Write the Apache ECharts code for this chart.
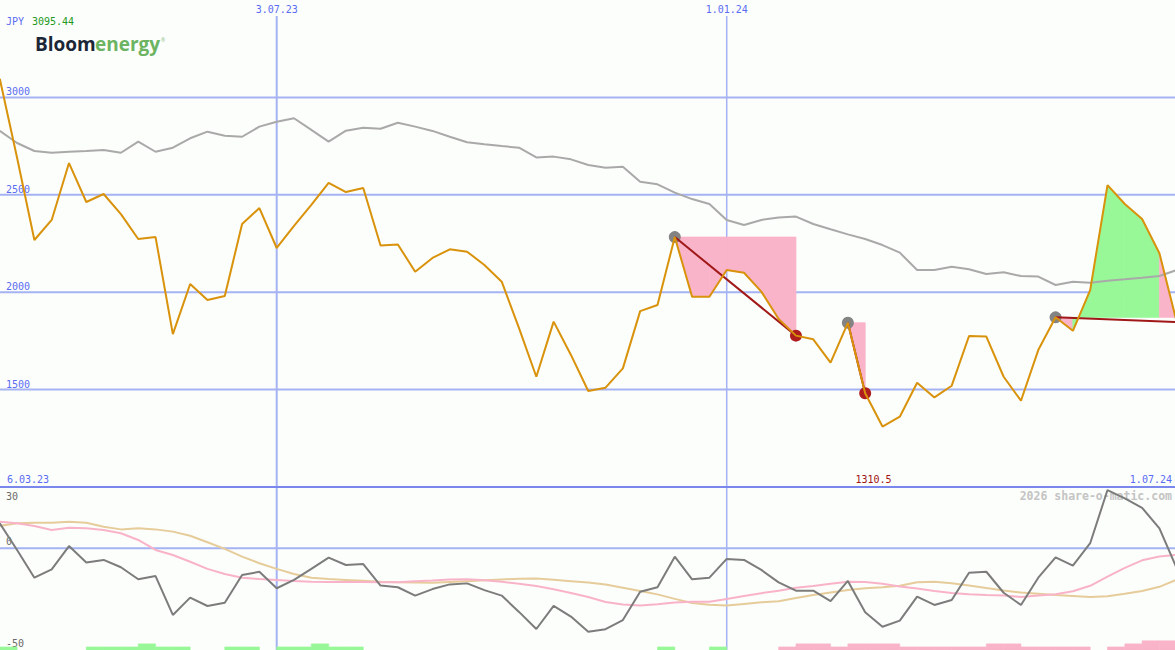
<!DOCTYPE html>
<html><head><meta charset="utf-8">
<script src="https://cdn.jsdelivr.net/npm/echarts@6/dist/echarts.min.js"></script>
<style>html,body{margin:0;padding:0;background:#fcfefb;}#c{width:1175px;height:650px;}</style>
</head><body><div id="c"></div>
<script>
// ---- data (weekly closes, JPY) ----
const firstWeek = 1;                       // week index of first value (13.03.23); 6.03.23 = 0
const dateTicks = ['3.07.23', '1.01.24'];
const dateTickWeeks = [17, 43];
const rangeLabels = ['6.03.23', '1.07.24'];
const priceTicks = [1500, 2000, 2500, 3000];
const oscTicks = [30, 0, -50];
const currency = 'JPY';

const price = [3095.44, 2690, 2268, 2371, 2663, 2463, 2504, 2401, 2273, 2283,
  1785, 2042, 1960, 1980, 2350, 2432, 2227, 2340, 2448, 2561,
  2514, 2535, 2240, 2245, 2105, 2176, 2220, 2208, 2140, 2054,
  1816, 1566, 1849, 1678, 1493, 1510, 1609, 1903, 1934, 2283,
  1977, 1977, 2114, 2100, 2003, 1862, 1777, 1758, 1638, 1843,
  1481, 1310.5, 1361, 1535, 1460, 1520, 1775, 1772, 1566, 1443,
  1703, 1871, 1802, 2011, 2550, 2453, 2376, 2200, 1847];

const average = [2828, 2766, 2725, 2716, 2721, 2725, 2730, 2716, 2773, 2721,
  2742, 2790, 2824, 2803, 2798, 2850, 2875, 2893, 2833, 2773,
  2829, 2844, 2839, 2870, 2850, 2828, 2798, 2770, 2759, 2750,
  2742, 2692, 2696, 2682, 2653, 2639, 2644, 2567, 2554, 2511,
  2478, 2453, 2371, 2345, 2371, 2384, 2388, 2350, 2323, 2297,
  2273, 2242, 2203, 2114, 2114, 2131, 2118, 2093, 2102, 2083,
  2080, 2037, 2054, 2049, 2059, 2066, 2074, 2083, 2114];

const oscMain = [12.2, -0.9, -14.5, -10.4, 1.0, -7.1, -5.8, -9.4, -15.3, -13.7,
  -32.8, -24.3, -28.4, -26.8, -13.2, -11.6, -19.7, -15.6, -10.2, -4.7,
  -8.3, -7.8, -18.4, -19.2, -23.3, -20.1, -17.8, -17.3, -20.6, -23.3,
  -31.3, -39.7, -28.3, -33.6, -41, -39.8, -35.3, -21.4, -19.2, -4.2,
  -15.3, -14.5, -5.3, -5.8, -10.7, -16.8, -20.9, -20.9, -26, -16.1,
  -31.5, -38.6, -35.6, -23.8, -27.9, -25.5, -12.1, -11.6, -21.9, -27.9,
  -14.5, -4.5, -8.6, 2.4, 28.5, 24.4, 19.8, 9.7, -9.9];

const oscFast = [13, 12.2, 10.9, 8.9, 10, 9.7, 8.9, 7.3, 4, -0.9,
  -3.4, -6.7, -10.2, -12.7, -14.5, -15.2, -15.6, -16.1, -16.5, -16.6,
  -16.6, -16.6, -16.8, -16.8, -16.3, -15.9, -15.4, -15.3, -15.8, -16.5,
  -17.5, -18.6, -20.2, -22, -24, -26.4, -27.7, -28.2, -27.6, -26.7,
  -26.3, -26.3, -25, -23.5, -22.1, -20.9, -19.5, -18.6, -17.5, -16.5,
  -16.6, -17.5, -18.8, -19.8, -21, -22, -22.6, -23, -23.3, -24,
  -23.2, -22.6, -21.2, -18.5, -14, -9.7, -6, -4.1, -3.3];

const oscSlow = [10.9, 12.2, 12.5, 12.5, 13, 12.5, 10.5, 9.2, 9.7, 9.2,
  8.1, 6.1, 2.9, -0.4, -4.2, -7.4, -10.2, -12.7, -14.5, -15.2,
  -15.6, -16, -16.5, -16.8, -16.9, -17, -16.6, -16.2, -15.8, -15.4,
  -15, -14.9, -15.5, -16.2, -16.9, -17.9, -19.4, -21, -22.7, -24.9,
  -26.9, -27.8, -28.2, -27.4, -26.6, -26.1, -24.5, -23, -21.8, -20.6,
  -19.7, -19.2, -18.5, -16.8, -16.5, -17.2, -18.3, -19.6, -20.8, -21.8,
  -22.4, -23, -23.5, -24, -23.6, -22.4, -21, -19, -15.5];

const barUp = [1.5, 0, 0, 0, 0, 1.5, 1.5, 1.5, 3, 1.5,
  1.5, 0, 0, 1.5, 1.5, 0, 1.5, 1.5, 3, 1.5,
  1.5, 0, 0, 0, 0, 0, 0, 0, 0, 0,
  0, 0, 0, 0, 0, 0, 0, 0, 1.5, 0,
  0, 1.5, 0, 0, 0, 0, 0, 0, 0, 0,
  0, 0, 0, 0, 0, 0, 0, 0, 0, 0,
  0, 0, 0, 0, 0, 0, 0, 0, 0];

const barDown = [0, 0, 0, 0, 0, 0, 0, 0, 0, 0,
  0, 0, 0, 0, 0, 0, 0, 0, 0, 0,
  0, 0, 0, 0, 0, 0, 0, 0, 0, 0,
  0, 0, 0, 0, 0, 0, 0, 0, 0, 0,
  0, 0, 0, 0, 0, 1.5, 3, 3, 1.5, 3,
  3, 3, 1.5, 1.5, 1.5, 1.5, 1.5, 3, 3, 1.5,
  1.5, 1.5, 1.5, 0, 1.5, 3, 4.5, 4.5, 0];

const trades = [[40, 47], [50, 51], [62, 69]];   // [entry week, exit week]

// ---- styles ----
const C = {
  bg: '#fcfefb', grid: '#a5b3f4', sep: '#7a88ee', blueText: '#5a6cf2', grayText: '#6a6a6a',
  price: '#d9920b', avg: '#a9a9a9', loss: '#fab4c9', gain: '#98f898', trade: '#a01818',
  entry: '#838383', exit: '#ae1e1e', osc: '#7c7c7c', fast: '#f9b3c9', slow: '#e6cc9a'
};
const MONO = '"DejaVu Sans Mono", monospace';
const LOGO = '"Open Sans", sans-serif';
const dateLineWidth = [2, 1.5];

const series2d = arr => arr.map((v, k) => [k + firstWeek, v]);
const valAt = w => price[w - firstWeek];
const fillSegs = [];
trades.forEach(([a, b]) => {
  const level = valAt(a);
  for (let k = a; k < b; k++) fillSegs.push([k, k + 1, level, valAt(k), valAt(k + 1)]);
});
const maxVal = Math.max(...price), minVal = Math.min(...price);
const minWeek = price.indexOf(minVal) + firstWeek;
const bars = [];
barUp.forEach((h, k) => { if (h > 0) bars.push([k + firstWeek, h, 1]); });
barDown.forEach((h, k) => { if (h > 0) bars.push([k + firstWeek, h, 0]); });

const chart = echarts.init(document.getElementById('c'), null, { renderer: 'svg', width: 1175, height: 650 });
const xMin = 1.013, xMax = 68.9;

chart.setOption({
  animation: false,
  backgroundColor: C.bg,
  grid: [
    { left: 0, right: 0, top: 0, height: 487 },
    { left: 0, right: 0, top: 487, height: 163 }
  ],
  xAxis: [
    { type: 'value', gridIndex: 0, min: xMin, max: xMax, show: false },
    { type: 'value', gridIndex: 1, min: xMin, max: xMax, show: false }
  ],
  yAxis: [
    { type: 'value', gridIndex: 0, min: 1000, max: 3500, show: false },
    { type: 'value', gridIndex: 1, min: -50, max: 30, show: false }
  ],
  graphic: [
    { type: 'text', silent: true, z: 0, style: { x: 6, y: 21, text: currency, fill: C.blueText, font: '10px ' + MONO, verticalAlign: 'middle' } },
    { type: 'text', silent: true, z: 0, style: { x: 32, y: 21, text: String(maxVal), fill: '#1d9a1d', font: '10px ' + MONO, verticalAlign: 'middle' } },
    { type: 'text', silent: true, z: 0, style: { x: 35, y: 44, text: 'Bloom', fill: '#1b2636', font: 'bold 19px ' + LOGO, verticalAlign: 'middle' } },
    { type: 'text', silent: true, z: 0, style: { x: 95, y: 44, text: 'energy', fill: '#6cb461', font: 'bold 19px ' + LOGO, verticalAlign: 'middle' } },
    { type: 'text', silent: true, z: 0, style: { x: 161, y: 40, text: '®', fill: '#8cbf86', font: '5px ' + LOGO, verticalAlign: 'middle' } },
    { type: 'text', silent: true, z: 0, style: { x: 7, y: 479, text: rangeLabels[0], fill: C.blueText, font: '10px ' + MONO, verticalAlign: 'middle' } },
    { type: 'text', silent: true, z: 0, style: { x: 1172, y: 479, text: rangeLabels[1], fill: C.blueText, font: '10px ' + MONO, verticalAlign: 'middle', align: 'right' } },
    { type: 'text', silent: true, z: 0, style: { x: 1172, y: 496, text: '2026 share-o-matic.com', fill: '#c4c4c4', font: 'bold 11.5px ' + MONO, verticalAlign: 'middle', align: 'right' } }
  ],
  series: [
    { // vertical date lines + labels
      type: 'custom', xAxisIndex: 0, yAxisIndex: 0, z: 1, silent: true,
      data: dateTickWeeks.map((w, i) => [w, i]),
      renderItem(params, api) {
        const x = api.coord([api.value(0), 2000])[0];
        const i = api.value(1);
        return { type: 'group', children: [
          { type: 'line', shape: { x1: x, y1: 16, x2: x, y2: api.getHeight() }, style: { stroke: C.grid, lineWidth: dateLineWidth[i] } },
          { type: 'text', style: { x: x, y: 9, text: dateTicks[i], fill: C.blueText, font: '10px ' + MONO, align: 'center', verticalAlign: 'middle' } }
        ] };
      }
    },
    { // price grid lines + labels
      type: 'custom', xAxisIndex: 0, yAxisIndex: 0, z: 1, silent: true,
      data: priceTicks.map(v => [v]),
      renderItem(params, api) {
        const y = api.coord([xMin, api.value(0)])[1];
        const cs = params.coordSys;
        return { type: 'group', children: [
          { type: 'line', shape: { x1: cs.x, y1: y, x2: cs.x + cs.width, y2: y }, style: { stroke: C.grid, lineWidth: 2 } },
          { type: 'text', style: { x: 6, y: y - 5.5, text: String(api.value(0)), fill: C.blueText, font: '10px ' + MONO, verticalAlign: 'middle' } }
        ] };
      }
    },
    { // oscillator panel lines + labels
      type: 'custom', xAxisIndex: 1, yAxisIndex: 1, z: 1, silent: true,
      data: oscTicks.map((v, i) => [v, i]),
      renderItem(params, api) {
        const v = api.value(0), i = api.value(1);
        const y = api.coord([xMin, v])[1];
        const cs = params.coordSys;
        const ch = [];
        if (i === 0) ch.push({ type: 'line', shape: { x1: cs.x, y1: y, x2: cs.x + cs.width, y2: y }, style: { stroke: C.sep, lineWidth: 2 } });
        if (i === 1) ch.push({ type: 'line', shape: { x1: cs.x, y1: y, x2: cs.x + cs.width, y2: y }, style: { stroke: C.grid, lineWidth: 2 } });
        ch.push({ type: 'text', style: { x: 6, y: i === 0 ? y + 9 : y - 6.3, text: String(v), fill: C.grayText, font: '10px ' + MONO, verticalAlign: 'middle' } });
        return { type: 'group', children: ch };
      }
    },
    { // trade result fills
      type: 'custom', xAxisIndex: 0, yAxisIndex: 0, z: 2, silent: true,
      data: fillSegs,
      renderItem(params, api) {
        const k0 = api.value(0), k1 = api.value(1), lv = api.value(2), p0 = api.value(3), p1 = api.value(4);
        const pts = [api.coord([k0, lv]), api.coord([k1, lv]), api.coord([k1, p1]), api.coord([k0, p0])];
        const col = p1 < lv ? C.loss : C.gain;
        return { type: 'polygon', shape: { points: pts }, style: { fill: col, stroke: col, lineWidth: 0.8 } };
      }
    },
    { type: 'line', xAxisIndex: 0, yAxisIndex: 0, z: 3, data: series2d(average), symbol: 'none', silent: true,
      lineStyle: { color: C.avg, width: 2 } },
    { type: 'scatter', xAxisIndex: 0, yAxisIndex: 0, z: 4, silent: true, symbolSize: 12,
      data: trades.map(t => [t[0], valAt(t[0])]), itemStyle: { color: C.entry, opacity: 1 } },
    { type: 'scatter', xAxisIndex: 0, yAxisIndex: 0, z: 4, silent: true, symbolSize: 12,
      data: trades.map(t => [t[1], valAt(t[1])]), itemStyle: { color: C.exit, opacity: 1 } },
    { // trade connecting lines
      type: 'custom', xAxisIndex: 0, yAxisIndex: 0, z: 5, silent: true,
      data: trades.map(t => [t[0], valAt(t[0]), t[1], valAt(t[1])]),
      renderItem(params, api) {
        const a = api.coord([api.value(0), api.value(1)]), b = api.coord([api.value(2), api.value(3)]);
        return { type: 'line', shape: { x1: a[0], y1: a[1], x2: b[0], y2: b[1] }, style: { stroke: C.trade, lineWidth: 2 } };
      }
    },
    { type: 'line', xAxisIndex: 0, yAxisIndex: 0, z: 6, data: series2d(price), symbol: 'none', silent: true,
      lineStyle: { color: C.price, width: 2 } },
    { // min label
      type: 'custom', xAxisIndex: 0, yAxisIndex: 0, z: 7, silent: true,
      data: [[minWeek, minVal]],
      renderItem(params, api) {
        const x = api.coord([api.value(0), api.value(1)])[0];
        const cs = params.coordSys;
        return { type: 'text', style: { x: x - 9, y: cs.y + cs.height - 8, text: String(api.value(1)), fill: '#a01414', font: '10px ' + MONO, align: 'center', verticalAlign: 'middle' } };
      }
    },
    { // bottom bars
      type: 'custom', xAxisIndex: 1, yAxisIndex: 1, z: 2, silent: true,
      data: bars,
      renderItem(params, api) {
        const w = api.value(0), h = api.value(1), up = api.value(2);
        const p0 = api.coord([w, -50]), p1 = api.coord([w + 1, -50 + h]);
        const col = up ? C.gain : C.loss;
        return { type: 'rect', shape: { x: p0[0], y: p1[1], width: p1[0] - p0[0], height: p0[1] - p1[1] }, style: { fill: col, stroke: col, lineWidth: 0.6 } };
      }
    },
    { type: 'line', xAxisIndex: 1, yAxisIndex: 1, z: 3, data: series2d(oscSlow), symbol: 'none', silent: true, lineStyle: { color: C.slow, width: 2 } },
    { type: 'line', xAxisIndex: 1, yAxisIndex: 1, z: 4, data: series2d(oscFast), symbol: 'none', silent: true, lineStyle: { color: C.fast, width: 2 } },
    { type: 'line', xAxisIndex: 1, yAxisIndex: 1, z: 5, data: series2d(oscMain), symbol: 'none', silent: true, lineStyle: { color: C.osc, width: 2 } }
  ]
});
</script></body></html>
